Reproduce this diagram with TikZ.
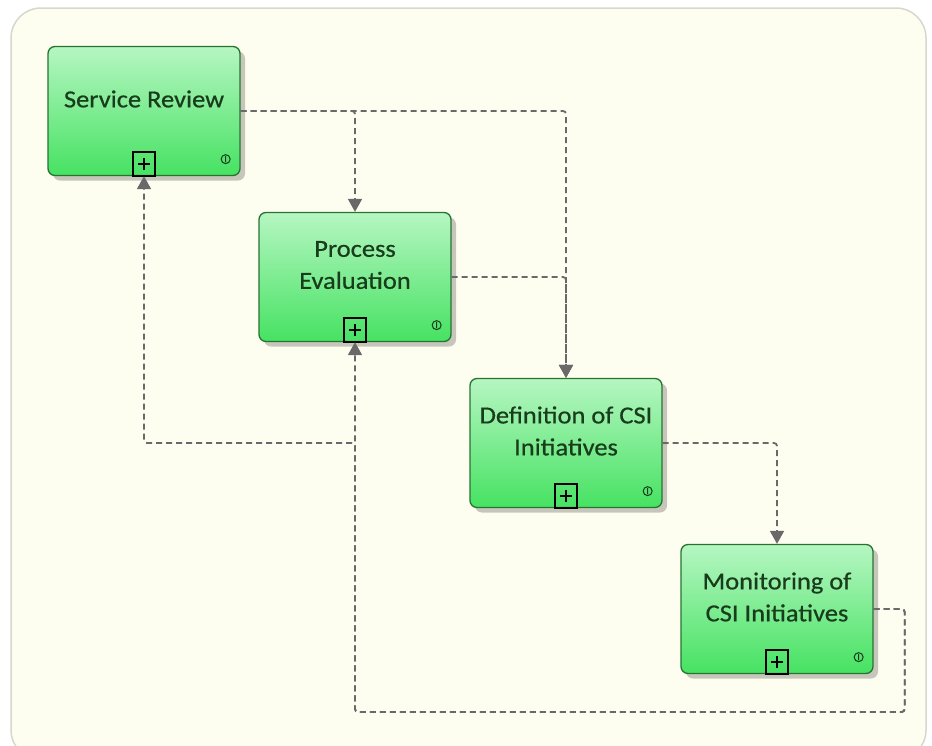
\documentclass[tikz,border=0pt]{standalone}
\usepackage{fontspec}
\setmainfont{Carlito}[FakeStretch=1.08,FakeBold=0.6]
\usetikzlibrary{positioning,arrows.meta,shadows}

\definecolor{canvas}{RGB}{254,254,240}
\definecolor{frameline}{RGB}{215,215,205}
\definecolor{proctop}{RGB}{182,246,194}
\definecolor{procbottom}{RGB}{70,226,98}
\definecolor{procline}{RGB}{40,115,50}
\definecolor{proctext}{RGB}{24,60,28}
\definecolor{flowline}{RGB}{105,105,105}

\begin{document}
\begin{tikzpicture}[x=1pt,y=1pt,
	node distance=166pt and 211pt,
	proc/.style={rectangle,rounded corners=7pt,draw=procline,line width=1.3pt,
		top color=proctop,bottom color=procbottom,
		minimum width=192pt,minimum height=129pt,on grid,
		drop shadow={shadow xshift=5pt,shadow yshift=-5pt,fill=black,opacity=.22}},
	proclabel/.style={font=\fontsize{24.5}{32}\selectfont,text=proctext,align=center,yshift=12pt},
	flow/.style={draw=flowline,line width=1.8pt,dash pattern=on 6pt off 4pt,
		rounded corners=3pt,-{Triangle[width=14pt,length=13pt]}},
	plusbox/.style={draw=black,line width=1.4pt},
	infomark/.style={draw=proctext,line width=1pt},]

	\useasboundingbox (0,0) rectangle (932,-745);
	\draw [fill=canvas,draw=frameline,line width=1.5pt,rounded corners=30pt] (11,-8) rectangle (926,-760);

	\node [proc,label={[proclabel,name=sr-t]center:Service Review}] (sr) at (144,-111) {};
	\node [proc,below right=of sr,label={[proclabel,name=pe-t]center:Process\\Evaluation}] (pe) {};
	\node [proc,below right=of pe,label={[proclabel,name=def-t]center:Definition of CSI\\Initiatives}] (def) {};
	\node [proc,below right=of def,label={[proclabel,name=mon-t]center:Monitoring of\\CSI Initiatives}] (mon) {};

	% sub-process marker and info mark
	\foreach \p in {sr,pe,def,mon} {
		\draw [plusbox] ([xshift=-11pt]\p.south) rectangle ([xshift=11pt,yshift=24pt]\p.south);
		\draw [plusbox] ([xshift=-6pt,yshift=12pt]\p.south) -- ++(12pt,0)
			([yshift=6pt]\p.south) -- ++(0,12pt);
		\draw [infomark] ([xshift=-15pt,yshift=17pt]\p.south east) circle (4.5pt)
			++(0,-3pt) -- ++(0,6pt);
	}

	\coordinate (back) at ([xshift=31pt,yshift=-103pt]mon.east);

	\draw [flow] (sr.east) -| (pe.north);
	\draw [flow] (sr.east) -| (def.north);
	\draw [flow] (pe.east) -| (def.north);
	\draw [flow] (def.east) -| (mon.north);
	\draw [flow] (mon.east) -| (back) -| (pe.south);
	\draw [flow] (mon.east) -| (back) -| (pe.south |- def.east) -| (sr.south);
\end{tikzpicture}
\end{document}
